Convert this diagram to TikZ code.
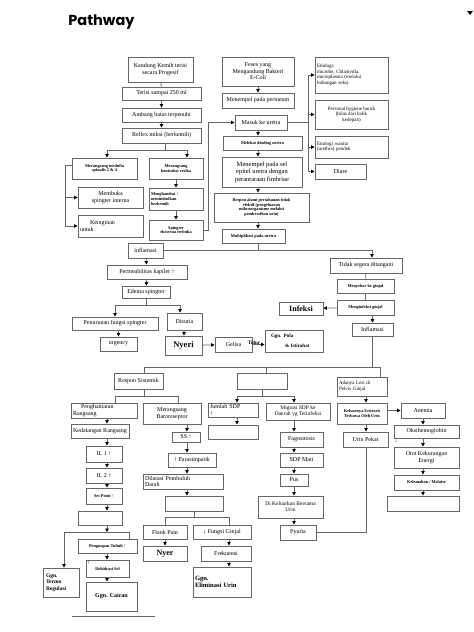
\documentclass[tikz,border=0pt]{standalone}
\usepackage{fontspec}
\setmainfont{Liberation Serif}
\newfontfamily\titlefont{Poppins}
\usetikzlibrary{arrows.meta}

\begin{document}
\begin{tikzpicture}[x=1pt, y=-1pt, font=\fontsize{6}{6.5}\selectfont]
    % Styles
    \tikzset{
        box/.style={draw=black!60, line width=0.9pt, inner sep=1pt, align=center},
        dim/.style 2 args={minimum width=#1pt, minimum height=#2pt},
        small/.style={font=\fontsize{4.3}{4.8}\selectfont\bfseries},
        heavy/.style={font=\fontsize{8.5}{9.5}\selectfont\bfseries},
        link/.style={draw=black!60, line width=0.8pt},
        flow/.style={link, -{Triangle[length=3.5pt, width=3.5pt, color=black]}}
    }
    \useasboundingbox (0, 0) rectangle (474, 632);

    % Title
    \node[font=\titlefont\bfseries\fontsize{14.5}{16}\selectfont] (title) at (101.5, 22) {Pathway};
    \fill (467, 11) -- (473, 11) -- (470, 15) -- cycle;

    % Columns for the vertical arrows
    \coordinate (colA) at (107, 0);
    \coordinate (colB) at (187, 0);
    \coordinate (colC) at (237, 0);
    \coordinate (colD) at (294, 0);
    \coordinate (colE) at (366, 0);
    \coordinate (colF) at (423, 0);
    \coordinate (colH) at (229, 0);
    \coordinate (colK) at (258, 0);

    % Bladder filling
    \node[box, dim={65}{25}] (kandung) at (160.5, 69.5) {Kandung Kemih terisi\\secara Progesif};
    \node[box, dim={79}{13}] (terisi) at (161.5, 93.5) {Terisi sampai 250 ml};
    \node[box, dim={79}{14}] (ambang) at (161.5, 115) {Ambang batas terpenuhi};
    \node[box, dim={79}{15}] (reflex) at (161.5, 135.5) {Reflex miksi (berkemih)};
    \node[box, small, dim={65}{21}] (medulla) at (104.5, 168.5) {Merangsang medulla\\spinalis 2 \& 4};
    \node[box, small, dim={54}{21}] (vesika) at (176, 168.5) {Merangsang\\kontraksi vesika};
    \node[box, dim={65}{21}] (membuka) at (110.5, 197.5) {Membuka\\spingter interna};
    \node[box, dim={65}{22}, text width=61pt, align=left] (keinginan) at (110.5, 226) {\hspace*{10pt}Keinginan\\untuk};
    \node[box, small, dim={54}{22}, text width=50pt, align=left] (hambat) at (176, 199) {Menghambat /\\menimbulkan\\berkemih};
    \node[box, small, dim={54}{20}] (eksterna) at (176, 230) {Spingter\\eksterna terbuka};

    % E-Coli route
    \node[box, dim={72}{29}] (feses) at (258, 71.5) {Feses yang\\Mengandung Bakteri\\E-Coli};
    \node[box, dim={72}{15}] (perineum) at (258, 100.5) {Menempel pada perineum};
    \node[box, dim={52}{15}] (uretra) at (261, 122.5) {Masuk ke uretra};
    \node[box, small, dim={79}{14}] (melekat) at (262.5, 143) {Melekat dinding uretra};
    \node[box, dim={80}{30}, font=\fontsize{6.5}{7.5}\selectfont] (epitel) at (262, 172) {Menempel pada sel\\epitel uretra dengan\\perantaraan fimbriae};
    \node[box, small, dim={95}{29}] (respon) at (261.5, 207.5) {Respon alami pertahanan tidak\\efektif (pengeluaran\\mikroorganisme melalui\\pembersihan urin)};
    \node[box, small, dim={63}{14}] (multi) at (253.5, 236) {Multiplikasi pada uretra};

    % Etiologi
    \node[box, dim={73}{36}, text width=69pt, align=left, font=\fontsize{5}{5.5}\selectfont] (etiologi) at (351.5, 75) {Etiologi:\\microbe, Chlamydia,\\microplasma (melalui\\hubungan seks)};
    \node[box, dim={73}{29}, font=\fontsize{5}{5.5}\selectfont] (hygiene) at (351.5, 114.5) {Personal hygiene buruk\\(bilas dari balik\\kedepan)};
    \node[box, dim={73}{22}, text width=69pt, align=left, font=\fontsize{5}{5.5}\selectfont] (wanita) at (351.5, 147) {Etiologi wanita\\(urethra) pendek};
    \node[box, dim={51}{15}] (diare) at (340.5, 171.5) {Diare};

    % Inflamasi
    \node[box, dim={35}{15}] (inflamasi) at (145.5, 250.5) {inflamasi};
    \node[box, dim={80}{14}] (kapiler) at (147, 272) {Permeabilitas kapiler ↑};
    \node[box, dim={48}{12}] (edema) at (146, 292) {Edema spingter};
    \node[box, dim={86}{13}] (penurunan) at (115, 323.5) {Penurunan fungsi spingter};
    \node[box, dim={35}{17}] (disuria) at (184.5, 321.5) {Disuria};
    \node[box, dim={37}{14}] (urgency) at (118.5, 344) {urgency};
    \node[box, heavy, dim={37}{19}] (nyeri) at (183.5, 345.5) {Nyeri};
    \node[box, dim={37}{15}] (gelisa) at (233.5, 344.5) {Gelisa};
    \node[font=\fontsize{5}{5.5}\selectfont\bfseries] (tidur) at (254, 343) {Tidur};
    \node[box, dim={58}{22}, text width=54pt, align=left, font=\fontsize{5}{5.5}\selectfont\bfseries] (pola) at (294, 341) {\hspace*{4pt}Ggn. Pola\\[4pt]\hspace*{18pt}\& Istirahat};

    % Tidak segera ditangani
    \node[box, dim={72}{15}] (tidak) at (366, 265.5) {Tidak segera ditangani};
    \node[box, small, dim={57}{14}] (menyebar) at (365.5, 286) {Menyebar ke ginjal};
    \node[box, small, dim={57}{15}] (menginfeksi) at (365.5, 307.5) {Menginfeksi ginjal};
    \node[box, dim={44}{13}, font=\fontsize{8}{9}\selectfont\bfseries] (infeksi) at (301, 308.5) {Infeksi};
    \node[box, dim={41}{13}] (inflamasi2) at (372.5, 329.5) {Inflamasi};

    % Second level
    \node[box, dim={49}{16}] (sistemik) at (138.5, 381) {Respon Sistemik};
    \node[box, dim={50}{16}] (kosongA) at (262, 381) {};
    \node[box, dim={50}{19}, text width=46pt, align=left, font=\fontsize{5}{5.5}\selectfont] (lesi) at (362, 386.5) {Adanya Lesi di\\Pelvis Ginjal};

    % Thermoregulation chain
    \node[box, dim={66}{15}, text width=62pt, align=left] (rangsang) at (104, 410.5) {\hspace*{8pt}Penghantaran\\Rangsang};
    \node[box, dim={58}{14}] (kedatangan) at (100, 431) {Kedatangan Rangsang};
    \node[box, dim={36}{16}] (ilsatu) at (104, 454) {IL 1 ↑};
    \node[box, dim={36}{15}] (ildua) at (104, 475.5) {IL 2 ↑};
    \node[box, small, dim={36}{16}] (setpoint) at (104, 496) {Set Point ↑};
    \node[box, dim={44}{14}] (kosongE) at (100, 518) {};
    \node[box, small, dim={59}{14}] (penguapan) at (107.5, 546) {Penguapan Tubuh ↑};
    \node[box, small, dim={43}{17}, label={[anchor=north west, inner sep=1.5pt, font=\fontsize{5}{5}\selectfont]north west:↑}] (dehidrasi) at (107.5, 568.5) {\\Dehidrasi Sel};
    \node[box, dim={36}{29}, text width=30pt, align=left, font=\fontsize{5.5}{6.5}\selectfont\bfseries] (termo) at (61, 582.5) {Ggn.\\Termo\\Regulasi};
    \node[box, dim={51}{29}, font=\fontsize{6}{7}\selectfont\bfseries] (cairan) at (111.5, 596.5) {Ggn. Cairan};

    % Baroreceptor chain
    \node[box, dim={58}{21}] (baro) at (172, 413.5) {Merangsang\\Baroreseptor};
    \node[box, dim={28}{10}] (ss) at (186, 437) {SS ↑};
    \node[box, dim={48}{14}] (para) at (192, 460) {↑ Parasimpatik};
    \node[box, dim={80}{15}, text width=76pt, align=left] (dilatasi) at (183, 481.5) {Dilatasi Pembuluh\\Darah};
    \node[box, dim={58}{15}] (kosongC) at (194, 503.5) {};
    \node[box, dim={44}{14}] (flank) at (165, 532) {Flank Pain};
    \node[box, dim={58}{14}] (fungsi) at (222, 532) {↓ Fungsi Ginjal};
    \node[box, dim={44}{15}, font=\fontsize{8}{9}\selectfont\bfseries] (nyer) at (165, 553.5) {Nyer};
    \node[box, dim={50}{15}] (frekuensi) at (226, 553.5) {Frekuensi};
    \node[box, dim={58}{30}, text width=54pt, align=left, font=\fontsize{6.5}{7.5}\selectfont\bfseries] (eliminasi) at (222, 582) {Ggn.\\Eliminasi Urin};

    % Leucocyte chain
    \node[box, dim={50}{14}, text width=46pt, align=left] (jumlah) at (233, 410) {Jumlah SDP\\↑};
    \node[box, dim={50}{14}] (kosongB) at (233, 432) {};
    \node[box, dim={64}{17}, font=\fontsize{5.5}{6}\selectfont] (migrasi) at (298, 411.5) {Migrasi SDP ke\\Daerah yg Terinfeksi};
    \node[box, dim={43}{15}] (fagositosis) at (301.5, 439.5) {Fagositosis};
    \node[box, dim={43}{14}] (sdpmati) at (301.5, 460) {SDP Mati};
    \node[box, dim={28}{12}] (pus) at (294, 480) {Pus};
    \node[box, dim={65}{22}, font=\fontsize{5.5}{6}\selectfont] (bersama) at (290.5, 507) {Di Keluarkan Bersama\\Urin};
    \node[box, dim={36}{15}] (pyuria) at (298, 532.5) {Pyuria};

    % Anemia chain
    \node[box, small, dim={50}{21}] (eritrosit) at (362, 413.5) {Keluarnya Eritrosit\\Terbawa Oleh Urin};
    \node[box, dim={44}{15}] (anemia) at (423, 410.5) {Anemia};
    \node[box, dim={45}{15}] (pekat) at (365.5, 439.5) {Urin Pekat};
    \node[box, dim={65}{13}, label={[anchor=north west, inner sep=1pt, font=\fontsize{5}{5}\selectfont]south west:↓}] (oksi) at (426.5, 431.5) {Oksihemoglobin};
    \node[box, dim={65}{21}] (otot) at (426.5, 457.5) {Otot Kekurangan\\Energi};
    \node[box, small, dim={65}{15}] (lemah) at (426.5, 482.5) {Kelemahan / Malaise};
    \node[box, dim={72}{15}] (kosongD) at (423, 503.5) {};

    % Connectors: bladder
    \draw[link] (kandung) -- (terisi);
    \draw[flow] (terisi) -- (ambang);
    \draw[flow] (ambang) -- (reflex);
    \coordinate (reflexJ) at (165, 150);
    \draw[link] (reflex.south -| reflexJ) -- (reflexJ);
    \draw[flow] (reflexJ) -| (colA |- medulla.north);
    \draw[flow] (reflexJ) -| (colB |- vesika.north);
    \coordinate (medullaJ) at (65, 165);
    \draw[link] (medulla.west |- medullaJ) -- (medullaJ);
    \draw[flow] (medullaJ) |- (membuka);
    \draw[flow] (medullaJ) |- (keinginan);
    \draw[flow] (vesika) -- (hambat);
    \draw[flow] (hambat) -- (eksterna);
    \coordinate (loopJ) at (208, 230);
    \draw[flow] (eksterna) -- (loopJ) |- (uretra);

    % Connectors: E-Coli route
    \draw[flow] (feses) -- (perineum);
    \draw[flow] (uretra.south -| colK) -- (melekat.north -| colK);
    \draw[flow] (melekat.south -| colK) -- (epitel.north -| colK);
    \draw[flow] (epitel.south -| colK) -- (respon.north -| colK);
    \draw[flow] (respon.south -| colK) -- (multi.north -| colK);
    \coordinate (causeJ) at (308, 122.5);
    \draw[link] (uretra) -- (causeJ);
    \draw[flow] (causeJ) |- (etiologi);
    \draw[flow] (causeJ) |- (hygiene);
    \draw[flow] (causeJ) |- (wanita);
    \draw[flow] (causeJ) |- (diare);

    % Connectors: inflammation
    \coordinate (multiJ) at (258, 250.5);
    \draw[link] (multi.south -| multiJ) -- (multiJ);
    \draw[flow] (inflamasi) -| ([xshift=6pt]tidak.north);
    \draw[flow] (inflamasi) -- (kapiler);
    \draw[flow] (kapiler) -- (edema);
    \coordinate (edemaJ) at (146, 305);
    \draw[link] (edema) -- (edemaJ);
    \draw[flow] (edemaJ) -| (penurunan);
    \draw[flow] (edemaJ) -| ([xshift=-4.5pt]disuria.north);
    \draw[flow] (penurunan.south -| urgency) -- (urgency);
    \draw[flow] (disuria) -- (nyeri);
    \draw[flow] (nyeri) -- (gelisa);
    \draw[flow] (gelisa.east) -- (gelisa.east -| pola.west);
    \draw[link] (tidak) -- (menyebar);
    \draw[link] (menyebar) -- (menginfeksi);
    \draw[flow] (menginfeksi) -- (infeksi);
    \draw[flow] (menginfeksi.south -| inflamasi2) -- (inflamasi2);

    % Connectors: systemic split
    \coordinate (sysJ) at (372.5, 367);
    \draw[link] (inflamasi2) -- (sysJ);
    \draw[link] (sysJ) -| ([xshift=5.5pt]sistemik.north);
    \draw[link] (sysJ) -| ([xshift=4pt]kosongA.north);
    \draw[link] (sysJ) -| ([xshift=18pt]lesi.north);
    \coordinate (sistemikJ) at (144, 396);
    \draw[link] (sistemik.south -| sistemikJ) -- (sistemikJ);
    \draw[link] (sistemikJ) -| ([xshift=11pt]rangsang.north);
    \draw[link] (sistemikJ) -| ([xshift=6pt]baro.north);

    % Connectors: thermoregulation
    \draw[flow] (rangsang.south -| colA) -- (kedatangan.north -| colA);
    \draw[flow] (kedatangan.south -| colA) -- (ilsatu.north -| colA);
    \draw[flow] (ilsatu.south -| colA) -- (ildua.north -| colA);
    \draw[flow] (ildua.south -| colA) -- (setpoint.north -| colA);
    \draw[flow] (setpoint.south -| colA) -- (kosongE.north -| colA);
    \coordinate (termoJ) at (107, 532);
    \draw[flow] (kosongE.south -| colA) -- (termoJ);
    \draw[flow] (termoJ) -| ([xshift=3pt]termo.north);
    \draw[link] (termoJ) -| ([xshift=21.5pt]penguapan.north);
    \draw[flow] (penguapan.south -| colA) -- (dehidrasi.north -| colA);
    \draw[flow] (dehidrasi.south -| colA) -- (cairan.north -| colA);

    % Connectors: baroreceptor
    \draw[flow] (baro.south -| colB) -- (ss.north -| colB);
    \draw[flow] (ss.south -| colB) -- (para.north -| colB);
    \draw[flow] (para.south -| colB) -- (dilatasi.north -| colB);
    \draw[flow] (dilatasi.south -| colB) -- (kosongC.north -| colB);
    \coordinate (kosongCJ) at (194, 517);
    \draw[link] (kosongC) -- (kosongCJ);
    \draw[link] (kosongCJ) -| (flank);
    \draw[link] (kosongCJ) -| (colH |- fungsi.north);
    \draw[flow] (flank) -- (nyer);
    \draw[flow] (fungsi.south -| colH) -- (frekuensi.north -| colH);
    \draw[flow] (frekuensi.south -| colH) -- (eliminasi.north -| colH);

    % Connectors: leucocytes
    \coordinate (kosongAJ) at (262, 396);
    \draw[link] (kosongA) -- (kosongAJ);
    \draw[flow] (kosongAJ) -| (colC |- jumlah.north);
    \draw[flow] (kosongAJ) -| (colD |- migrasi.north);
    \draw[flow] (jumlah.south -| colC) -- (kosongB.north -| colC);
    \draw[flow] (migrasi.south -| colD) -- (fagositosis.north -| colD);
    \draw[flow] (fagositosis.south -| colD) -- (sdpmati.north -| colD);
    \draw[flow] (sdpmati.south -| colD) -- (pus.north -| colD);
    \draw[flow] (pus.south -| colD) -- (bersama.north -| colD);
    \draw[flow] (bersama.south -| colD) -- (pyuria.north -| colD);

    % Connectors: anemia
    \draw[flow] (lesi.south -| colE) -- (eritrosit.north -| colE);
    \draw[flow] (eritrosit.south -| colE) -- (pekat.north -| colE);
    \draw[link] (pekat.south -| colE) |- (pyuria);
    \draw[flow] (eritrosit.east |- anemia) -- (anemia);
    \draw[flow] (anemia.south -| colF) -- (oksi.north -| colF);
    \draw[flow] (oksi.south -| colF) -- (otot.north -| colF);
    \draw[flow] (otot.south -| colF) -- (lemah.north -| colF);
    \draw[flow] (lemah.south -| colF) -- (kosongD.north -| colF);

    % Footer line
    \draw[link] (72, 616) -- (155, 616);
\end{tikzpicture}
\end{document}
